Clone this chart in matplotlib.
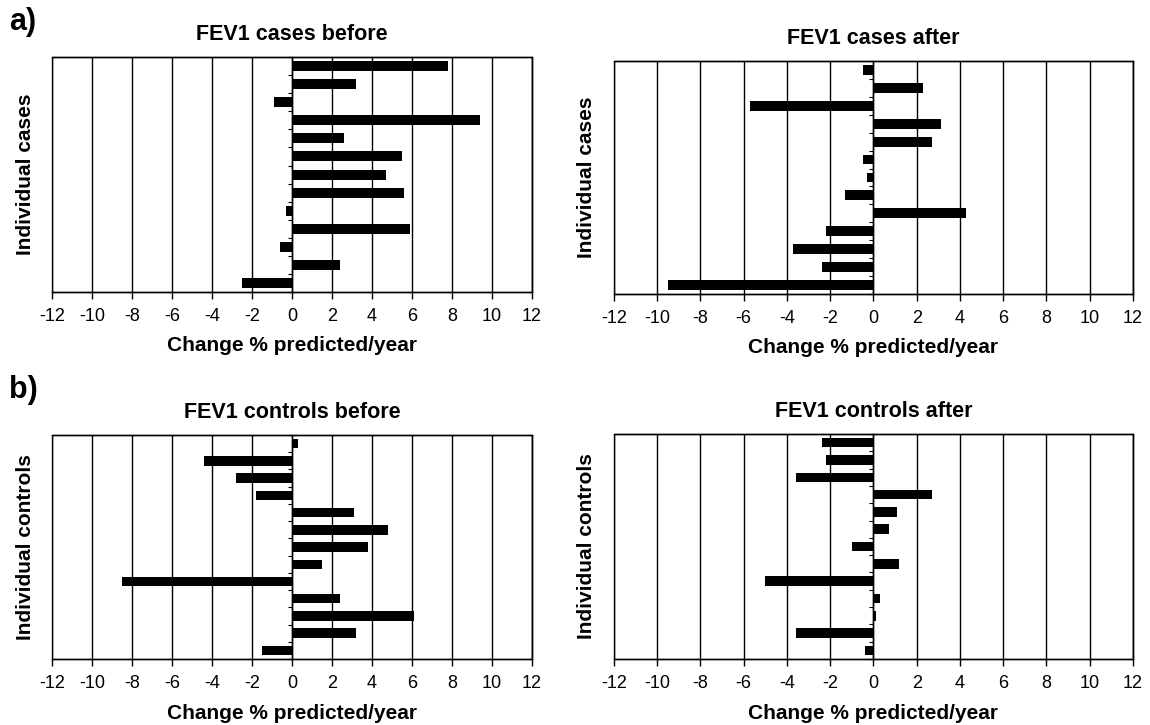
import numpy as np
import matplotlib
matplotlib.use("Agg")
import matplotlib.pyplot as plt
from matplotlib.patches import Rectangle

plt.rcParams['font.family'] = ['Liberation Sans', 'DejaVu Sans']

# values read top to bottom, change in % predicted per year
cases_before = [7.8, 3.2, -0.9, 9.4, 2.6, 5.5, 4.7, 5.6, -0.3, 5.9, -0.6, 2.4, -2.5]
cases_after = [-0.5, 2.3, -5.7, 3.1, 2.7, -0.5, -0.3, -1.3, 4.3, -2.2, -3.7, -2.4, -9.5]
controls_before = [0.3, -4.4, -2.8, -1.8, 3.1, 4.8, 3.8, 1.5, -8.5, 2.4, 6.1, 3.2, -1.5]
controls_after = [-2.4, -2.2, -3.6, 2.7, 1.1, 0.7, -1.0, 1.2, -5.0, 0.3, 0.1, -3.6, -0.4]

x_ticks = list(range(-12, 13, 2))
x_label = 'Change % predicted/year'


def draw_panel(ax, values, title, ylabel, xpad):
    n = len(values)
    y = np.arange(n)
    ax.barh(y, values, height=0.55, color='black', zorder=3)
    ax.set_xlim(-12, 12)
    ax.set_ylim(n - 0.5, -0.5)
    ax.set_xticks(x_ticks)
    ax.set_xticklabels([str(t) for t in x_ticks])
    ax.grid(axis='x', color='black', linewidth=1.0)
    ax.set_axisbelow(True)

    # category axis sits on zero, Excel style
    ax.spines['left'].set_position(('data', 0))
    ax.spines['left'].set_linewidth(1.0)
    ax.set_yticks(np.arange(n + 1) - 0.5)
    ax.tick_params(axis='y', length=3, width=0.8, labelleft=False)
    ax.tick_params(axis='x', length=5, width=1.0, labelsize=13, pad=6.5)
    for side in ['top', 'right', 'bottom']:
        ax.spines[side].set_linewidth(1.0)
    ax.add_patch(Rectangle((0, 0), 1, 1, transform=ax.transAxes, fill=False,
                           edgecolor='black', linewidth=1.0, clip_on=False, zorder=4))

    ax.set_title(title, fontsize=15.5, fontweight='bold', pad=12)
    ax.set_xlabel(x_label, fontsize=15, fontweight='bold', labelpad=xpad)
    ax.set_ylabel(ylabel, fontsize=15, fontweight='bold')
    ax.yaxis.set_label_coords(-0.035, 0.5)


fig = plt.figure(figsize=(11.5, 7.25), dpi=100)
ax1 = fig.add_axes([0.0452, 0.5972, 0.4174, 0.3241])
ax2 = fig.add_axes([0.5339, 0.5945, 0.4513, 0.3214])
ax3 = fig.add_axes([0.0452, 0.0910, 0.4174, 0.3090])
ax4 = fig.add_axes([0.5339, 0.0910, 0.4513, 0.3103])

draw_panel(ax1, cases_before, 'FEV1 cases before', 'Individual cases', 8)
draw_panel(ax2, cases_after, 'FEV1 cases after', 'Individual cases', 8)
draw_panel(ax3, controls_before, 'FEV1 controls before', 'Individual controls', 8.5)
draw_panel(ax4, controls_after, 'FEV1 controls after', 'Individual controls', 8.5)

fig.text(0.008, 1 - 7 / 725, 'a)', fontsize=22, fontweight='bold', va='top')
fig.text(0.008, 1 - 375 / 725, 'b)', fontsize=22, fontweight='bold', va='top')

fig.savefig('out.png', dpi=100)
